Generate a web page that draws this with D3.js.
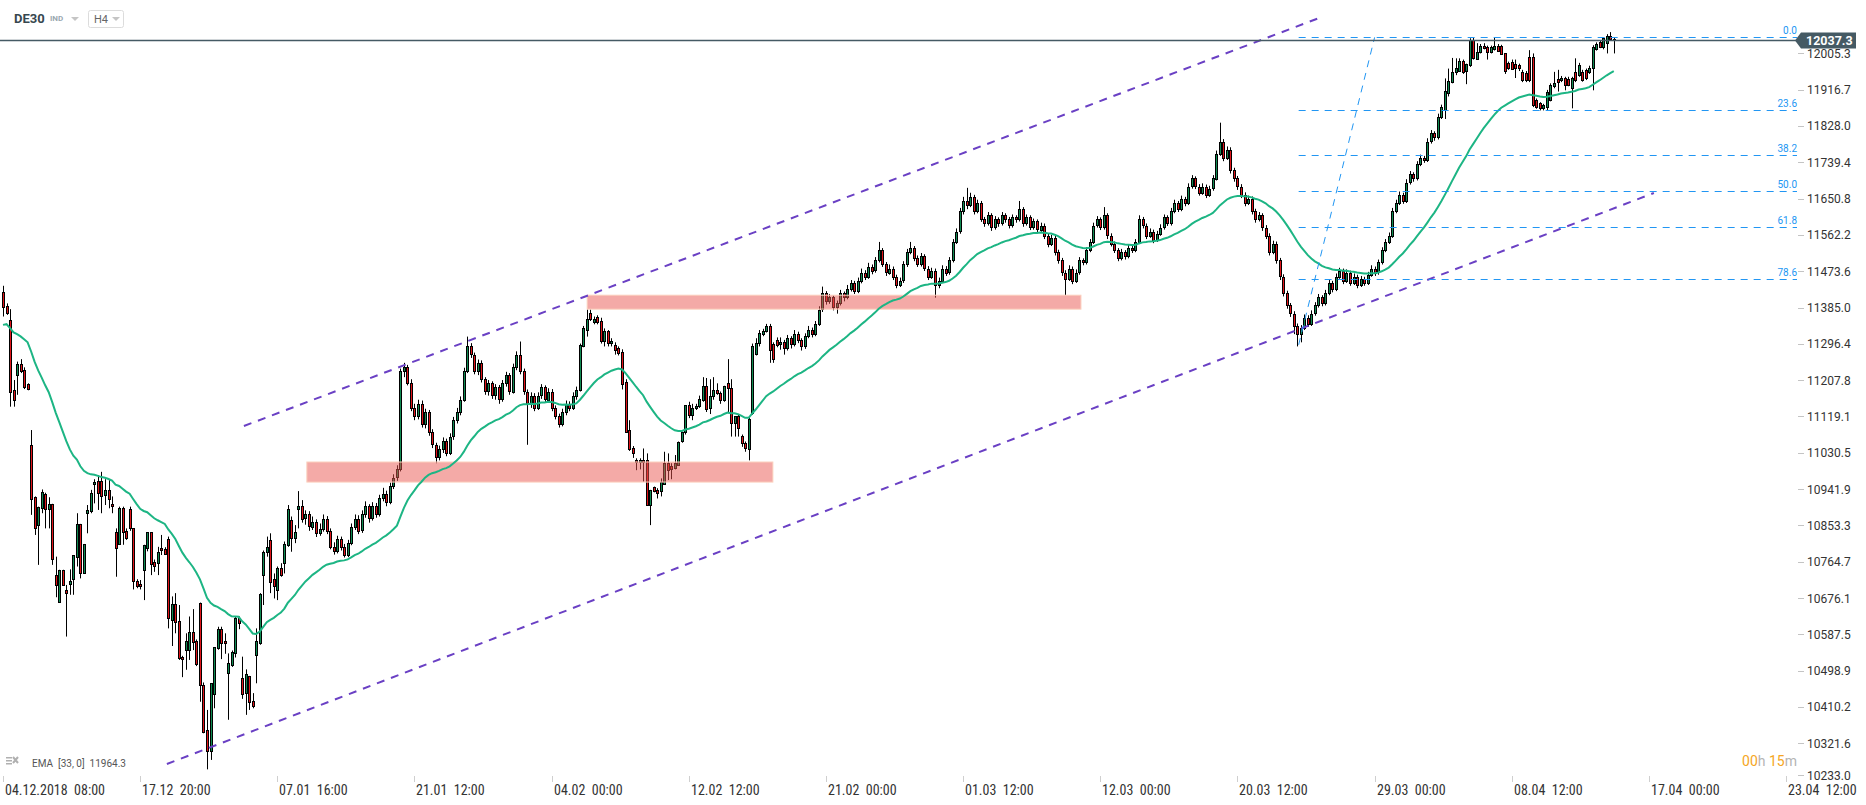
<!DOCTYPE html>
<html>
<head>
<meta charset="utf-8">
<script src="https://cdn.jsdelivr.net/npm/d3@7"></script>
<style>
body { margin: 0; background: #fff; overflow: hidden; }
svg { display: block; }
text { font-family: Roboto, "Noto Sans", sans-serif; }
</style>
</head>
<body>
<svg id="chart" width="1866" height="805"></svg>
<script>
// DE30 H4 candles [open, high, low, close], one per 4h bar from 04.12.2018 08:00
var candles = [
[11422,11438,11363,11385],[11389,11395,11367,11372],[11355,11381,11143,11180],[11184,11208,11143,11159],[11220,11253,11172,11247],
[11247,11259,11225,11229],[11233,11239,11186,11192],[11198,11200,11183,11185],[11050,11086,10879,10919],[10922,10924,10830,10846],
[10856,10899,10757,10899],[10897,10941,10883,10935],[10930,10933,10846,10893],[10893,10922,10846,10906],[10906,10906,10757,10771],
[10732,10777,10678,10708],[10667,10745,10667,10745],[10745,10745,10708,10708],[10696,10708,10582,10688],[10710,10746,10684,10717],
[10722,10780,10684,10780],[10777,10883,10753,10857],[10857,10857,10724,10738],[10738,10808,10738,10808],[10883,10903,10834,10891],
[10887,10940,10883,10932],[10953,10966,10907,10959],[10961,10976,10891,10932],[10961,10984,10883,10924],[10928,10966,10903,10940],
[10940,10964,10895,10919],[10905,10924,10883,10899],[10838,10846,10728,10800],[10806,10899,10806,10895],[10895,10899,10806,10837],
[10840,10846,10818,10822],[10893,10899,10840,10846],[10846,10846,10697,10716],[10718,10722,10700,10706],[10710,10720,10697,10706],
[10746,10806,10671,10806],[10798,10837,10790,10837],[10837,10837,10732,10759],[10763,10770,10740,10753],[10762,10801,10732,10788],
[10799,10830,10781,10793],[10796,10800,10781,10783],[10820,10826,10602,10627],[10624,10680,10559,10662],[10662,10688,10590,10619],
[10620,10659,10525,10529],[10531,10535,10483,10527],[10549,10590,10501,10570],[10549,10631,10525,10592],[10592,10649,10549,10567],
[10571,10575,10510,10514],[10665,10665,10423,10464],[10464,10470,10346,10350],[10354,10403,10258,10303],[10303,10468,10281,10468],
[10441,10556,10407,10556],[10553,10606,10550,10600],[10600,10606,10527,10566],[10572,10590,10540,10566],[10492,10541,10379,10517],
[10514,10548,10508,10545],[10541,10631,10531,10627],[10627,10631,10600,10615],[10482,10533,10430,10444],[10444,10502,10391,10490],
[10486,10486,10403,10423],[10425,10444,10407,10413],[10537,10602,10468,10570],[10566,10688,10562,10686],[10732,10792,10659,10789],
[10789,10826,10777,10801],[10818,10834,10688,10716],[10722,10736,10675,10704],[10696,10753,10671,10749],[10749,10761,10728,10732],
[10761,10814,10736,10808],[10806,10903,10801,10893],[10867,10875,10789,10822],[10822,10854,10810,10836],[10893,10937,10846,10901],
[10901,10915,10860,10870],[10870,10890,10855,10880],[10880,10888,10840,10850],[10850,10875,10842,10862],[10862,10868,10825,10835],
[10835,10858,10828,10845],[10845,10880,10838,10870],[10870,10876,10832,10840],[10840,10846,10795,10800],[10800,10812,10782,10790],
[10790,10828,10785,10820],[10820,10826,10792,10800],[10800,10808,10775,10780],[10780,10818,10776,10810],[10810,10858,10805,10850],
[10850,10880,10842,10870],[10870,10878,10832,10840],[10840,10890,10835,10880],[10880,10912,10872,10900],[10900,10905,10860,10870],
[10870,10910,10865,10900],[10900,10908,10872,10880],[10880,10928,10875,10920],[10920,10945,10912,10930],[10930,10938,10900,10910],
[10910,10958,10905,10950],[10950,10978,10942,10970],[10970,11000,10962,10990],[10990,11236,10985,11230],[11230,11250,11215,11240],
[11240,11245,11195,11200],[11200,11210,11132,11140],[11140,11150,11110,11120],[11120,11160,11112,11150],[11150,11158,11092,11100],
[11100,11138,11090,11130],[11130,11135,11072,11080],[11080,11088,11042,11050],[11050,11055,11005,11020],[11020,11048,11012,11040],
[11040,11068,11030,11060],[11060,11065,11022,11030],[11030,11078,11025,11070],[11070,11118,11062,11110],[11110,11140,11102,11130],
[11130,11168,11122,11160],[11160,11238,11155,11230],[11230,11314,11225,11290],[11290,11298,11262,11270],[11270,11275,11222,11230],
[11230,11258,11220,11250],[11250,11256,11202,11210],[11210,11215,11172,11180],[11180,11208,11170,11200],[11200,11205,11162,11170],
[11170,11198,11160,11190],[11190,11196,11150,11160],[11160,11208,11155,11200],[11200,11228,11192,11220],[11220,11225,11172,11180],
[11180,11248,11175,11240],[11240,11278,11232,11270],[11270,11302,11222,11230],[11230,11236,11172,11180],[11180,11185,11050,11150],
[11150,11178,11140,11170],[11170,11176,11132,11140],[11140,11178,11135,11170],[11170,11198,11162,11190],[11190,11195,11152,11160],
[11160,11188,11152,11180],[11180,11186,11132,11140],[11140,11146,11112,11120],[11120,11126,11092,11100],[11100,11138,11095,11130],
[11130,11158,11122,11150],[11150,11156,11132,11140],[11140,11178,11135,11170],[11170,11192,11160,11184],[11184,11297,11180,11294],
[11290,11340,11288,11334],[11328,11380,11314,11356],[11371,11380,11352,11356],[11350,11363,11344,11358],[11361,11366,11344,11348],
[11353,11360,11297,11304],[11304,11334,11290,11328],[11328,11330,11290,11299],[11297,11310,11290,11303],[11294,11300,11270,11281],
[11285,11290,11268,11273],[11277,11283,11185,11200],[11204,11210,11082,11082],[11086,11110,11035,11039],[11041,11047,11018,11028],
[11013,11017,10988,11009],[11008,11017,10990,11013],[11013,11041,10960,11009],[11013,11029,10903,10903],[10903,10940,10854,10940],
[10946,10948,10934,10936],[10940,10944,10919,10933],[10936,10968,10924,10958],[10955,11033,10952,11006],[11006,11029,10964,10989],
[10998,11005,10966,10990],[10995,11025,10990,11006],[11003,11058,11000,11058],[11058,11082,11055,11080],[11080,11147,11075,11147],
[11147,11155,11115,11123],[11123,11150,11110,11139],[11139,11150,11135,11145],[11143,11170,11140,11161],[11161,11215,11155,11194],
[11194,11213,11130,11139],[11139,11210,11125,11169],[11169,11215,11160,11184],[11184,11200,11172,11176],[11176,11180,11150,11159],
[11159,11194,11155,11194],[11200,11259,11127,11188],[11188,11210,11070,11102],[11102,11120,11070,11120],[11120,11125,11070,11090],
[11071,11075,11045,11054],[11054,11058,11033,11041],[11041,11117,11012,11114],[11127,11297,11123,11290],[11273,11310,11268,11299],
[11297,11330,11290,11322],[11321,11333,11315,11328],[11328,11345,11324,11341],[11340,11345,11250,11281],[11297,11300,11250,11261],
[11306,11312,11288,11294],[11294,11312,11282,11300],[11300,11306,11270,11285],[11285,11318,11280,11310],[11310,11315,11285,11295],
[11295,11330,11290,11320],[11320,11326,11298,11305],[11305,11310,11280,11290],[11290,11322,11284,11315],[11315,11340,11310,11330],
[11330,11336,11312,11320],[11320,11352,11315,11345],[11345,11388,11340,11380],[11380,11436,11374,11420],[11420,11425,11392,11400],
[11400,11418,11394,11410],[11410,11414,11378,11385],[11385,11402,11370,11395],[11395,11428,11390,11420],[11420,11424,11400,11410],
[11410,11440,11405,11430],[11430,11452,11424,11445],[11445,11450,11418,11425],[11425,11458,11420,11450],[11450,11480,11444,11470],
[11470,11476,11452,11460],[11460,11494,11455,11485],[11485,11490,11466,11475],[11475,11508,11470,11500],[11500,11545,11495,11525],
[11525,11530,11484,11490],[11490,11496,11462,11470],[11470,11490,11465,11480],[11480,11485,11452,11460],[11460,11465,11432,11440],
[11440,11458,11435,11450],[11450,11498,11445,11490],[11490,11528,11484,11520],[11520,11545,11515,11530],[11530,11535,11498,11505],
[11505,11512,11484,11490],[11490,11518,11485,11510],[11510,11515,11474,11480],[11480,11486,11452,11460],[11460,11482,11455,11475],
[11475,11480,11409,11440],[11440,11458,11432,11450],[11450,11488,11445,11480],[11480,11486,11462,11470],[11470,11508,11465,11500],
[11500,11552,11495,11545],[11545,11578,11540,11570],[11570,11628,11565,11620],[11620,11655,11612,11645],[11645,11677,11625,11635],
[11635,11665,11630,11655],[11655,11660,11612,11620],[11620,11648,11615,11640],[11640,11645,11594,11600],[11600,11606,11582,11590],
[11590,11618,11585,11610],[11610,11615,11572,11580],[11580,11608,11575,11600],[11600,11605,11582,11590],[11590,11618,11585,11610],
[11610,11615,11592,11600],[11600,11606,11578,11585],[11585,11612,11580,11605],[11605,11610,11592,11600],[11600,11645,11595,11625],
[11625,11630,11582,11590],[11590,11612,11585,11605],[11605,11610,11574,11580],[11580,11602,11575,11595],[11595,11600,11568,11575],
[11575,11592,11570,11585],[11585,11590,11552,11560],[11560,11566,11532,11540],[11540,11562,11535,11555],[11555,11560,11512,11520],
[11520,11526,11492,11500],[11500,11506,11462,11470],[11470,11476,11415,11455],[11455,11488,11450,11480],[11480,11485,11442,11450],
[11450,11478,11445,11470],[11470,11508,11465,11500],[11500,11505,11488,11495],[11495,11532,11490,11525],[11525,11552,11520,11545],
[11545,11592,11540,11585],[11585,11608,11580,11600],[11600,11605,11574,11580],[11580,11630,11575,11610],[11610,11615,11552,11560],
[11560,11566,11534,11540],[11540,11546,11518,11525],[11525,11530,11498,11505],[11505,11528,11500,11520],[11520,11525,11502,11510],
[11510,11538,11505,11530],[11530,11535,11518,11525],[11525,11552,11520,11545],[11545,11610,11540,11600],[11600,11606,11578,11585],
[11585,11590,11552,11560],[11560,11578,11555,11570],[11570,11575,11542,11550],[11550,11572,11545,11565],[11565,11588,11560,11580],
[11580,11612,11575,11605],[11605,11610,11584,11590],[11590,11628,11585,11620],[11620,11648,11615,11640],[11640,11645,11618,11625],
[11625,11658,11620,11650],[11650,11655,11632,11640],[11640,11688,11635,11680],[11680,11708,11675,11700],[11700,11705,11674,11680],
[11680,11686,11658,11665],[11665,11688,11660,11680],[11680,11685,11652,11660],[11660,11682,11655,11675],[11675,11708,11670,11700],
[11700,11768,11695,11760],[11760,11836,11755,11790],[11790,11796,11742,11750],[11750,11778,11745,11770],[11770,11776,11712,11720],
[11720,11726,11692,11700],[11700,11706,11672,11680],[11680,11686,11652,11660],[11660,11666,11632,11640],[11640,11658,11635,11650],
[11650,11656,11612,11620],[11620,11626,11592,11600],[11600,11618,11595,11610],[11610,11615,11572,11580],[11580,11586,11552,11560],
[11560,11566,11512,11520],[11520,11548,11515,11540],[11540,11546,11492,11500],[11500,11506,11452,11460],[11460,11466,11412,11420],
[11420,11426,11382,11390],[11390,11396,11362,11370],[11370,11376,11320,11340],[11340,11346,11290,11320],[11320,11342,11300,11335],
[11335,11368,11330,11360],[11360,11366,11338,11345],[11345,11378,11340,11370],[11370,11398,11365,11390],[11390,11418,11385,11410],
[11410,11415,11388,11395],[11395,11428,11390,11420],[11420,11452,11415,11445],[11445,11450,11422,11430],[11430,11468,11425,11460],
[11460,11482,11455,11475],[11475,11480,11442,11450],[11450,11478,11445,11470],[11470,11475,11438,11445],[11445,11468,11440,11460],
[11460,11465,11432,11440],[11440,11462,11435,11455],[11455,11460,11438,11445],[11445,11472,11440,11465],[11465,11488,11460,11480],
[11480,11485,11462,11470],[11470,11502,11465,11495],[11495,11532,11490,11525],[11525,11552,11520,11545],[11545,11568,11540,11560],
[11560,11628,11555,11620],[11620,11648,11615,11640],[11640,11668,11635,11660],[11660,11665,11638,11645],[11645,11698,11640,11690],
[11690,11718,11685,11710],[11710,11715,11692,11700],[11700,11742,11695,11735],[11735,11758,11730,11750],[11750,11755,11738,11745],
[11745,11798,11740,11790],[11790,11818,11785,11810],[11810,11815,11792,11800],[11800,11858,11795,11850],[11851,11880,11845,11875],
[11867,11944,11845,11913],[11908,11968,11900,11938],[11936,11994,11932,11960],[11960,11993,11952,11970],[11962,11993,11960,11987],
[11987,11990,11955,11961],[11961,11980,11930,11978],[11977,12042,11972,12038],[12038,12044,11990,11993],[11993,12030,11989,12009],
[12009,12028,12005,12024],[12024,12030,12015,12018],[12021,12024,11990,12009],[12009,12024,12005,12021],[12016,12043,12012,12024],
[12024,12028,12010,12013],[12024,12026,12003,12005],[12005,12006,11955,11960],[11981,11985,11965,11969],[11985,11990,11965,11969],
[11980,11990,11945,11970],[11977,11980,11962,11969],[11960,11965,11935,11940],[11958,11962,11935,11942],[11997,12013,11935,11940],
[11997,12005,11874,11879],[11891,11895,11870,11875],[11883,11886,11866,11871],[11871,11882,11866,11879],[11875,11916,11866,11912],
[11891,11932,11888,11928],[11924,11960,11920,11932],[11943,11965,11912,11936],[11940,11950,11935,11946],[11944,11948,11915,11928],
[11943,11948,11925,11928],[11920,11948,11871,11944],[11960,11993,11935,11940],[11952,11982,11948,11977],[11960,11965,11936,11940],
[11964,11968,11940,11944],[11960,11975,11955,11970],[11969,12025,11915,12021],[12017,12032,12012,12029],[12032,12036,12018,12021],
[12019,12045,12015,12042],[12030,12052,12005,12048],[12048,12057,12036,12040],[12040,12044,12005,12037]
];

var yTicks = [12005.3,11916.7,11828.0,11739.4,11650.8,11562.2,11473.6,11385.0,11296.4,11207.8,11119.1,
  11030.5,10941.9,10853.3,10764.7,10676.1,10587.5,10498.9,10410.2,10321.6,10233.0];
var xLabels = ["04.12.2018  08:00","17.12  20:00","07.01  16:00","21.01  12:00","04.02  00:00","12.02  12:00",
  "21.02  00:00","01.03  12:00","12.03  00:00","20.03  12:00","29.03  00:00","08.04  12:00","17.04  00:00","23.04  12:00"];
var xLabelBars = [0,39,78,117,156,195,234,273,312,351,390,429,468,507];

var fibLevels = [0, 23.6, 38.2, 50, 61.8, 78.6];
var fibFrom = [368.4, 11294];     // [bar, price]
var fibTo = [390, 12044.3];
var channelUpper = [[68.5, 11095.8], [374.2, 12091.4]];
var channelLower = [[46.6, 10271.1], [469.4, 11664.4]];
var zones = [[166.1, 306.5, 11381, 11415], [86.4, 218.9, 10959, 11008]]; // [bar0, bar1, low, high]
var lastPrice = 12037.3;
var emaPeriod = 33, emaStart = 11340, emaLabel = "11964.3";

var plotRight = 1797;
var svg = d3.select("#chart");

var x = d3.scaleLinear().domain([0, 507]).range([3, 3 + 507 * 3.517]);
var y = d3.scaleLinear().domain([10233.0, 12005.3]).range([779.6, 53.3]);

// candles
var cg = svg.append("g");
cg.selectAll("line.wick").data(candles).enter().append("line")
  .attr("class", "wick")
  .attr("x1", function(d, i) { return Math.round(x(i)) + 0.5; })
  .attr("x2", function(d, i) { return Math.round(x(i)) + 0.5; })
  .attr("y1", function(d) { return y(d[1]); })
  .attr("y2", function(d) { return y(d[2]); })
  .attr("stroke", "#000").attr("stroke-width", 1);

cg.selectAll("rect.body").data(candles).enter().append("rect")
  .attr("class", "body")
  .attr("x", function(d, i) { return Math.round(x(i)) - 0.5; })
  .attr("y", function(d) { return Math.round(y(Math.max(d[0], d[3]))) + 0.5; })
  .attr("width", 2)
  .attr("height", function(d) { return Math.max(1, Math.round(Math.abs(y(d[0]) - y(d[3])))); })
  .attr("fill", function(d) { return d[3] >= d[0] ? "#0f8a52" : "#e0141a"; })
  .attr("stroke", "#000").attr("stroke-width", 1);

// support / resistance zones
svg.selectAll("rect.zone").data(zones).enter().append("rect")
  .attr("x", function(d) { return x(d[0]); })
  .attr("width", function(d) { return x(d[1]) - x(d[0]); })
  .attr("y", function(d) { return y(d[3]); })
  .attr("height", function(d) { return y(d[2]) - y(d[3]); })
  .attr("fill", "#ea5550").attr("fill-opacity", 0.5)
  .attr("stroke", "#fbd0bd").attr("stroke-width", 1);

// EMA 33
var k = 2 / (emaPeriod + 1), e = emaStart;
var ema = candles.map(function(d) { e = e + (d[3] - e) * k; return e; });
svg.append("path")
  .datum(ema)
  .attr("d", d3.line().x(function(d, i) { return x(i); }).y(function(d) { return y(d); }))
  .attr("fill", "none").attr("stroke", "#1db584").attr("stroke-width", 2);

// channel
[channelUpper, channelLower].forEach(function(c) {
  svg.append("line")
    .attr("x1", x(c[0][0])).attr("y1", y(c[0][1]))
    .attr("x2", x(c[1][0])).attr("y2", y(c[1][1]))
    .attr("stroke", "#6a40c4").attr("stroke-width", 2).attr("stroke-dasharray", "8,7");
});

// fibonacci
var fibRange = fibTo[1] - fibFrom[1];
var fg = svg.append("g");
fg.append("line")
  .attr("x1", x(fibFrom[0])).attr("y1", y(fibFrom[1]))
  .attr("x2", x(fibTo[0])).attr("y2", y(fibTo[1]))
  .attr("stroke", "#2196f3").attr("stroke-width", 1).attr("stroke-dasharray", "7,6");
fibLevels.forEach(function(lv) {
  var py = Math.round(y(fibTo[1] - fibRange * lv / 100)) + 0.5;
  fg.append("line")
    .attr("x1", x(fibFrom[0])).attr("x2", plotRight)
    .attr("y1", py).attr("y2", py)
    .attr("stroke", "#2196f3").attr("stroke-width", 1).attr("stroke-dasharray", "7,6");
  fg.append("text")
    .attr("x", plotRight).attr("y", py - 4)
    .attr("text-anchor", "end")
    .attr("font-size", "10px").attr("fill", "#2196f3")
    .text(lv.toFixed(1));
});

// current price line
var yp = Math.round(y(lastPrice)) + 0.5;
svg.append("line")
  .attr("x1", 0).attr("x2", plotRight).attr("y1", yp).attr("y2", yp)
  .attr("stroke", "#455a64").attr("stroke-width", 1.5);

// y axis
var ya = svg.append("g");
yTicks.forEach(function(v) {
  var ty = Math.min(y(v), 775);
  ya.append("line").attr("x1", 1798).attr("x2", 1804)
    .attr("y1", Math.round(ty) + 0.5).attr("y2", Math.round(ty) + 0.5)
    .attr("stroke", "#c4c4c4");
  ya.append("text").attr("x", 1807).attr("y", ty + 4.5)
    .attr("font-size", "12px").attr("fill", "#333").text(v.toFixed(1));
});

// last price tag
svg.append("path")
  .attr("d", "M1795," + yp + "L1801," + (yp - 8) + "H1856V" + (yp + 8) + "H1801Z")
  .attr("fill", "#455a64");
svg.append("text").attr("x", 1806).attr("y", yp + 4.5)
  .attr("font-size", "12.5px").attr("font-weight", "bold").attr("fill", "#fff")
  .text(lastPrice.toFixed(1));

// x axis
var xa = svg.append("g");
xLabelBars.forEach(function(b, i) {
  var tx = Math.round(x(b)) + 0.5;
  xa.append("line").attr("x1", tx).attr("x2", tx).attr("y1", 776).attr("y2", 782)
    .attr("stroke", "#cfcfcf");
  xa.append("text").attr("x", tx + 1.5).attr("y", 795)
    .style("white-space", "pre")
    .style("font-family", "'Liberation Sans Narrow', 'Roboto Condensed', sans-serif")
    .attr("font-size", "14px").attr("fill", "#333")
    .text(xLabels[i]);
});

// header
svg.append("text").attr("x", 14).attr("y", 23).attr("font-size", "13px")
  .attr("font-weight", "bold").attr("fill", "#37474f").text("DE30");
svg.append("text").attr("x", 50).attr("y", 21).attr("font-size", "8px")
  .attr("font-weight", "bold").attr("fill", "#9aa8b0").text("IND");
svg.append("path").attr("d", "M71,17H79L75,21Z").attr("fill", "#c5c5c5");
svg.append("rect").attr("x", 88.5).attr("y", 10.5).attr("width", 35).attr("height", 17).attr("rx", 2)
  .attr("fill", "#fff").attr("stroke", "#dcdcdc");
svg.append("text").attr("x", 94).attr("y", 23).attr("font-size", "11px").attr("fill", "#666").text("H4");
svg.append("path").attr("d", "M112,17H120L116,21Z").attr("fill", "#c5c5c5");

// indicator legend
var lg = svg.append("g").attr("fill", "#b0b0b0");
lg.append("rect").attr("x", 6).attr("y", 757).attr("width", 6).attr("height", 1.5);
lg.append("rect").attr("x", 6).attr("y", 760).attr("width", 6).attr("height", 1.5);
lg.append("rect").attr("x", 6).attr("y", 763).attr("width", 6).attr("height", 1.5);
lg.append("path").attr("d", "M13,757L18,763M18,757L13,763").attr("stroke", "#b0b0b0").attr("stroke-width", 2);
svg.append("text").attr("x", 32).attr("y", 766.5).style("white-space", "pre")
  .attr("font-size", "10px").attr("fill", "#555").text("EMA  [33, 0]  " + emaLabel);

// countdown
var cd = svg.append("text").attr("x", plotRight).attr("y", 766).attr("text-anchor", "end").attr("font-size", "14px");
cd.append("tspan").attr("fill", "#f5a623").text("00");
cd.append("tspan").attr("fill", "#b4b4b4").text("h ");
cd.append("tspan").attr("fill", "#f5a623").text("15");
cd.append("tspan").attr("fill", "#b4b4b4").text("m");
</script>
</body>
</html>
